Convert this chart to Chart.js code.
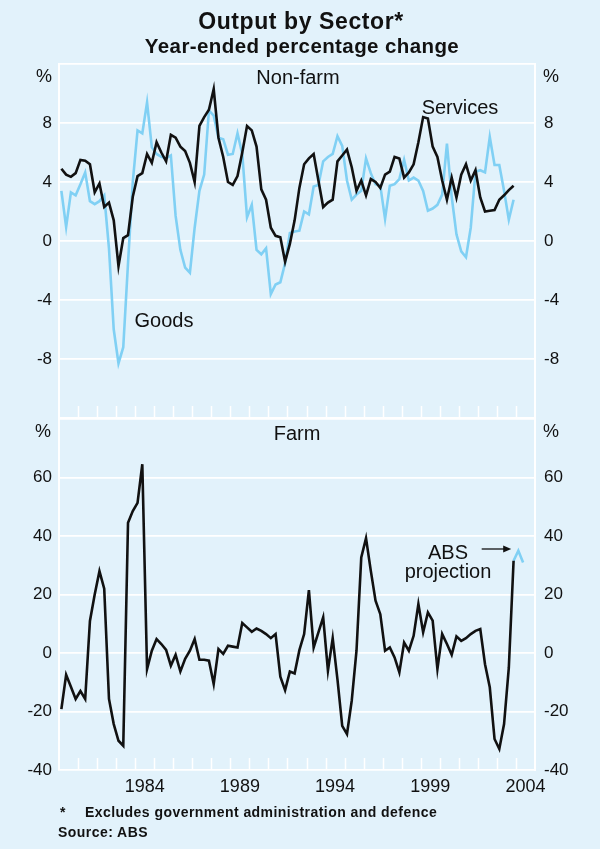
<!DOCTYPE html>
<html>
<head>
<meta charset="utf-8">
<script src="https://cdn.jsdelivr.net/npm/chart.js@4.4.1/dist/chart.umd.min.js"></script>
<style>
  html, body { margin: 0; padding: 0; background: #e2f2fb; }
  #wrap { position: relative; width: 600px; height: 849px; background: #e2f2fb;
          font-family: "Liberation Sans", Arial, sans-serif; color: #111; overflow: hidden; }
  canvas { position: absolute; left: 0; }
  .t { position: absolute; white-space: nowrap; transform: translate(-50%, -50%); }
  .l { position: absolute; white-space: nowrap; }
</style>
</head>
<body>
<div id="wrap">
  <canvas id="top" width="600" height="440" style="top:0"></canvas>
  <canvas id="bot" width="600" height="449" style="top:400px"></canvas>

  <div class="t" style="left:301px;top:21px;font-size:23px;font-weight:bold;letter-spacing:0.6px">Output by Sector*</div>
  <div class="t" style="left:302px;top:46px;font-size:20.5px;font-weight:bold;letter-spacing:0.4px">Year-ended percentage change</div>

  <div class="t" style="left:44px;top:76px;font-size:18px">%</div>
  <div class="t" style="left:551px;top:76px;font-size:18px">%</div>
  <div class="t" style="left:298px;top:77px;font-size:20px">Non-farm</div>
  <div class="t" style="left:460px;top:107px;font-size:20px">Services</div>
  <div class="t" style="left:164px;top:320px;font-size:20px">Goods</div>

  <div class="t" style="left:43px;top:431px;font-size:18px">%</div>
  <div class="t" style="left:551px;top:431px;font-size:18px">%</div>
  <div class="t" style="left:297px;top:433px;font-size:20px">Farm</div>
  <div class="t" style="left:448px;top:552px;font-size:20px">ABS</div>
  <div class="t" style="left:448px;top:571px;font-size:20px">projection</div>

  <div class="l" style="left:60px;top:804px;font-size:14px;font-weight:bold">*</div>
  <div class="l" style="left:85px;top:804px;font-size:14px;font-weight:bold;letter-spacing:0.45px">Excludes government administration and defence</div>
  <div class="l" style="left:58px;top:824px;font-size:14px;font-weight:bold;letter-spacing:0.45px">Source: ABS</div>
</div>

<script>
// quarterly series, March quarter 1979 onwards (year-ended % change)
const startYear = 1979;
const goods = [
  3.4, 0.95, 3.3, 3.1, 3.85, 4.65, 2.7, 2.5, 2.7, 3.1,
  -0.5, -6.0, -8.3, -7.2, -1.5, 4.0, 7.5, 7.3, 9.4, 6.35,
  5.9, 5.7, 5.6, 5.8, 1.7, -0.6, -1.8, -2.15, 0.9, 3.4,
  4.5, 8.85, 8.5, 7.0, 6.9, 5.85, 5.9, 7.3, 5.9, 1.6,
  2.45, -0.6, -0.9, -0.5, -3.6, -2.95, -2.8, -1.5, 0.55, 0.65,
  0.7, 2.0, 1.8, 3.7, 3.8, 5.4, 5.7, 5.9, 7.1, 6.45,
  4.1, 2.8, 3.15, 3.4, 5.6, 4.6, 3.85, 3.75, 1.5, 3.75,
  3.85, 4.2, 5.5, 4.1, 4.3, 4.1, 3.4, 2.05, 2.2, 2.45,
  3.15, 6.6, 3.0, 0.45, -0.7, -1.1, 0.9, 4.7, 4.8, 4.65,
  7.05, 5.15, 5.15, 3.4, 1.45, 2.8
];
const services = [
  4.9, 4.5, 4.35, 4.6, 5.5, 5.45, 5.2, 3.3, 3.9, 2.3,
  2.6, 1.4, -1.7, 0.2, 0.4, 3.0, 4.4, 4.6, 5.9, 5.3,
  6.7, 6.0, 5.4, 7.2, 7.0, 6.4, 6.1, 5.3, 4.0, 7.8,
  8.4, 8.9, 10.3, 7.0, 5.7, 4.0, 3.8, 4.4, 6.0, 7.8,
  7.5, 6.4, 3.5, 2.8, 0.9, 0.35, 0.25, -1.4, -0.2, 1.4,
  3.6, 5.2, 5.6, 5.9, 4.1, 2.3, 2.6, 2.8, 5.4, 5.8,
  6.2, 5.0, 3.4, 4.1, 3.1, 4.2, 4.0, 3.6, 4.5, 4.7,
  5.7, 5.6, 4.3, 4.65, 5.2, 6.7, 8.4, 8.3, 6.4, 5.7,
  4.1, 2.8, 4.3, 2.95, 4.5, 5.2, 4.1, 4.8, 2.95, 2.0,
  2.05, 2.1, 2.8, 3.1, 3.45, 3.75
];
const farm = [
  -19.2, -7.4, -11.5, -15.7, -13, -15.7, 11, 20, 28, 22,
  -15.7, -24.3, -30, -31.7, 44.6, 48.6, 51.4, 64.6, -5.5, 0.8,
  4.8, 3.1, 1.1, -4.3, -0.6, -6.3, -2, 0.8, 4.8, -2.3,
  -2.3, -2.6, -10.6, 1.4, -0.3, 2.5, 2.2, 1.9, 10.3, 8.8,
  7.3, 8.4, 7.6, 6.5, 5.1, 6.5, -8.1, -12.7, -6.3, -7,
  1, 6.5, 21.5, 1.9, 7.1, 12.2, -6, 5.1, -9, -24.9,
  -27.7, -16.3, 0.8, 32.7, 39.3, 28.2, 17.9, 13.3, 0.8, 1.9,
  -1.5, -6.6, 3.6, 0.8, 5.9, 16.8, 7.1, 13.9, 11.1, -5.5,
  6.5, 3.1, -0.6, 5.7, 4.2, 5.1, 6.5, 7.6, 8.2, -3.8,
  -11.7, -29.4, -32.8, -24.3, -5, 31.6
];
// ABS projection, continues from the last farm observation
const farmProjection = [31.6, 35, 31];
const yearLabels = ['1984', '1989', '1994', '1999', '2004'];

const BLUE = '#80d0f4';
const BLACK = '#111111';
const GRID = '#ffffff';

function qx(i) { return startYear + 0.125 + i * 0.25; }
function toPoints(arr, first) { return arr.map((v, i) => ({ x: qx(first + i), y: v })); }

Chart.defaults.font.family = '"Liberation Sans", Arial, sans-serif';
Chart.defaults.color = BLACK;

// white year tick marks standing up from the bottom edge of a panel
const yearTicks = {
  id: 'yearTicks',
  afterDraw(chart) {
    const xs = chart.scales.x, ctx = chart.ctx, b = chart.chartArea.bottom;
    ctx.save();
    ctx.strokeStyle = GRID;
    ctx.lineWidth = 1.5;
    for (let yr = startYear + 1; yr < 2004; yr++) {
      const px = Math.round(xs.getPixelForValue(yr)) + 0.5;
      ctx.beginPath();
      ctx.moveTo(px, b);
      ctx.lineTo(px, b - 12);
      ctx.stroke();
    }
    ctx.restore();
  }
};

// arrow pointing at the projection
const projArrow = {
  id: 'projArrow',
  afterDatasetsDraw(chart) {
    const xs = chart.scales.x, ys = chart.scales.y, ctx = chart.ctx;
    const yy = ys.getPixelForValue(35.6);
    const x0 = xs.getPixelForValue(2001.2), x1 = xs.getPixelForValue(2002.75);
    ctx.save();
    ctx.strokeStyle = BLACK; ctx.fillStyle = BLACK; ctx.lineWidth = 1.3;
    ctx.beginPath(); ctx.moveTo(x0, yy); ctx.lineTo(x1 - 6, yy); ctx.stroke();
    ctx.beginPath(); ctx.moveTo(x1, yy); ctx.lineTo(x1 - 8, yy - 3.5); ctx.lineTo(x1 - 8, yy + 3.5); ctx.closePath(); ctx.fill();
    ctx.restore();
  }
};

function yAxes(min, max, step, hide) {
  const tickCb = v => (hide.includes(v) ? '' : String(v));
  return {
    y: {
      position: 'left', min, max,
      ticks: { stepSize: step, callback: tickCb, padding: 7, font: { size: 17 }, color: BLACK },
      grid: { color: GRID, lineWidth: 1.8, drawTicks: false },
      border: { display: true, color: GRID, width: 2 },
      afterFit(s) { s.width = 59; }
    },
    y2: {
      position: 'right', min, max,
      ticks: { stepSize: step, callback: tickCb, padding: 9, font: { size: 17 }, color: BLACK },
      grid: { display: false, drawTicks: false },
      border: { display: true, color: GRID, width: 2 },
      afterFit(s) { s.width = 65; }
    }
  };
}

const lineStyle = { borderWidth: 2.6, pointRadius: 0, tension: 0, fill: false };

new Chart(document.getElementById('top'), {
  type: 'line',
  data: {
    datasets: [
      Object.assign({ label: 'Services', data: toPoints(services, 0), borderColor: BLACK }, lineStyle),
      Object.assign({ label: 'Goods', data: toPoints(goods, 0), borderColor: BLUE }, lineStyle)
    ]
  },
  options: {
    responsive: false, animation: false,
    layout: { padding: { top: 64, bottom: 22, left: 0, right: 0 } },
    plugins: { legend: { display: false }, tooltip: { enabled: false } },
    scales: Object.assign({
      x: { type: 'linear', min: startYear, max: 2004, display: false }
    }, yAxes(-12, 12, 4, [12, -12]))
  },
  plugins: [yearTicks]
});

new Chart(document.getElementById('bot'), {
  type: 'line',
  data: {
    datasets: [
      Object.assign({ label: 'Farm', data: toPoints(farm, 0), borderColor: BLACK }, lineStyle),
      Object.assign({ label: 'ABS projection', data: toPoints(farmProjection, farm.length - 1), borderColor: BLUE }, lineStyle)
    ]
  },
  options: {
    responsive: false, animation: false,
    layout: { padding: { top: 18, bottom: 49, left: 0, right: 0 } },
    plugins: { legend: { display: false }, tooltip: { enabled: false } },
    scales: Object.assign({
      x: {
        type: 'linear', min: startYear, max: 2004,
        afterBuildTicks(s) { s.ticks = yearLabels.map(l => ({ value: Number(l) - 0.5 })); },
        ticks: {
          callback: v => String(v + 0.5), autoSkip: false, maxRotation: 0,
          padding: 6, font: { size: 18 }, color: BLACK
        },
        grid: { display: false, drawTicks: false },
        border: { display: false },
        afterFit(s) { s.height = 30; }
      }
    }, yAxes(-40, 80, 20, [80]))
  },
  plugins: [yearTicks, projArrow]
});
</script>
</body>
</html>
